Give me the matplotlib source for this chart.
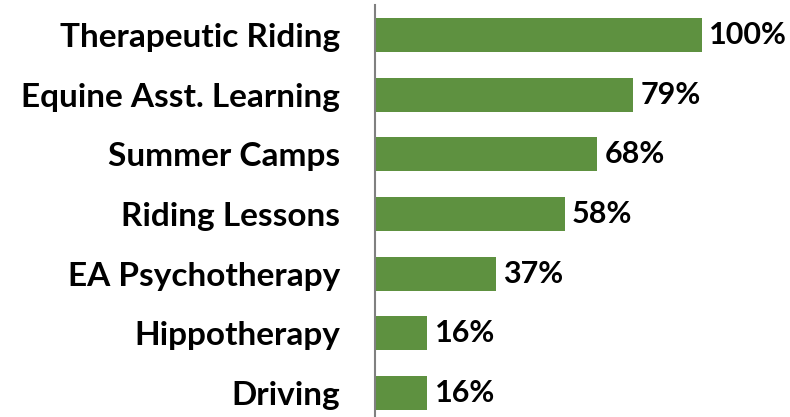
import matplotlib
matplotlib.use("Agg")
import matplotlib.pyplot as plt

categories = ["Therapeutic Riding", "Equine Asst. Learning", "Summer Camps",
              "Riding Lessons", "EA Psychotherapy", "Hippotherapy", "Driving"]
values = [100, 79, 68, 58, 37, 16, 16]
labels = ["100%", "79%", "68%", "58%", "37%", "16%", "16%"]

plt.rcParams['font.family'] = ['Lato', 'DejaVu Sans']

fig = plt.figure(figsize=(7.9, 4.17), dpi=100)
ax = fig.add_axes([375 / 790, 0.0, 1 - 375 / 790, 412 / 417])

pos = list(range(len(categories)))
ax.barh(pos, values, height=0.57, color="#5E9140")

for p, v, lab in zip(pos, values, labels):
    ax.text(v + 2.3, p, lab, va="center", ha="left", fontsize=22, fontweight="bold")

ax.set_xlim(0, 127)
ax.set_ylim(6.40, -0.50)
ax.set_yticks(pos)
ax.set_yticklabels(categories, fontsize=24, fontweight="bold")
ax.tick_params(axis="y", length=0, pad=25)
ax.set_xticks([])

for s in ["top", "right", "bottom"]:
    ax.spines[s].set_visible(False)
ax.spines["left"].set_color("#808080")
ax.spines["left"].set_linewidth(1.5)

fig.savefig("out.png", dpi=100)
